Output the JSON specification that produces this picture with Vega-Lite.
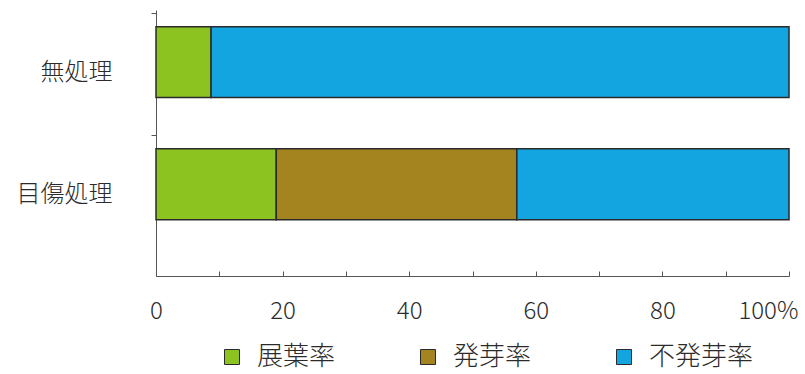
{
  "$schema": "https://vega.github.io/schema/vega-lite/v6.json",
  "autosize": {"type": "none"},
  "width": 633,
  "height": 266,
  "padding": {"left": 156, "top": 10, "right": 16, "bottom": 98},
  "background": "#ffffff",
  "config": {
    "font": "Noto Sans CJK JP",
    "view": {"stroke": null}
  },
  "data": {
    "values": [
      {"treatment": "無処理", "type": "展葉率", "value": 8.7},
      {"treatment": "無処理", "type": "不発芽率", "value": 91.3},
      {"treatment": "目傷処理", "type": "展葉率", "value": 19.0},
      {"treatment": "目傷処理", "type": "発芽率", "value": 38.0},
      {"treatment": "目傷処理", "type": "不発芽率", "value": 43.0}
    ]
  },
  "transform": [
    {"calculate": "indexof(['展葉率','発芽率','不発芽率'], datum.type)", "as": "rank"}
  ],
  "mark": {"type": "bar", "stroke": "#2a2a2a", "strokeWidth": 1.5},
  "encoding": {
    "y": {
      "field": "treatment",
      "type": "nominal",
      "sort": ["無処理", "目傷処理"],
      "scale": {"paddingInner": 0.42, "paddingOuter": 0.3, "align": 0.23},
      "axis": {
        "title": null,
        "domainColor": "#555555",
        "domainWidth": 1,
        "tickColor": "#555555",
        "tickSize": 5,
        "tickOffset": -49,
        "labelOffset": 59,
        "labelPadding": 39,
        "labelFontSize": 24,
        "labelFontWeight": 300,
        "labelColor": "#2b2b2b"
      }
    },
    "x": {
      "field": "value",
      "type": "quantitative",
      "stack": "zero",
      "scale": {"domain": [0, 100], "nice": false},
      "axis": {
        "title": null,
        "values": [0, 10, 20, 30, 40, 50, 60, 70, 80, 90, 100],
        "labelExpr": "datum.value % 20 == 0 ? (datum.value == 100 ? '100%' : datum.label) : ''",
        "labelAlign": {"expr": "datum.value == 100 ? 'right' : 'center'"},
        "labelOffset": {"expr": "datum.value == 100 ? 9 : 0"},
        "grid": false,
        "domainColor": "#555555",
        "domainWidth": 1,
        "tickColor": "#555555",
        "tickSize": -5,
        "labelPadding": 28,
        "labelFontSize": 24,
        "labelFontWeight": 300,
        "labelColor": "#2b2b2b",
        "labelFlush": false,
        "labelOverlap": false
      }
    },
    "color": {
      "field": "type",
      "type": "nominal",
      "scale": {
        "domain": ["展葉率", "発芽率", "不発芽率"],
        "range": ["#8cc320", "#a4841f", "#12a5e0"]
      },
      "legend": {
        "title": null,
        "orient": "none",
        "legendX": 63,
        "legendY": 334,
        "direction": "horizontal",
        "symbolType": "square",
        "symbolSize": 225,
        "symbolStrokeColor": "#2a2a2a",
        "symbolStrokeWidth": 1,
        "symbolOpacity": 1,
        "labelFontSize": 26,
        "labelFontWeight": 300,
        "labelColor": "#2b2b2b",
        "labelOffset": 12,
        "columnPadding": 79
      }
    },
    "order": {"field": "rank", "type": "quantitative"}
  }
}
